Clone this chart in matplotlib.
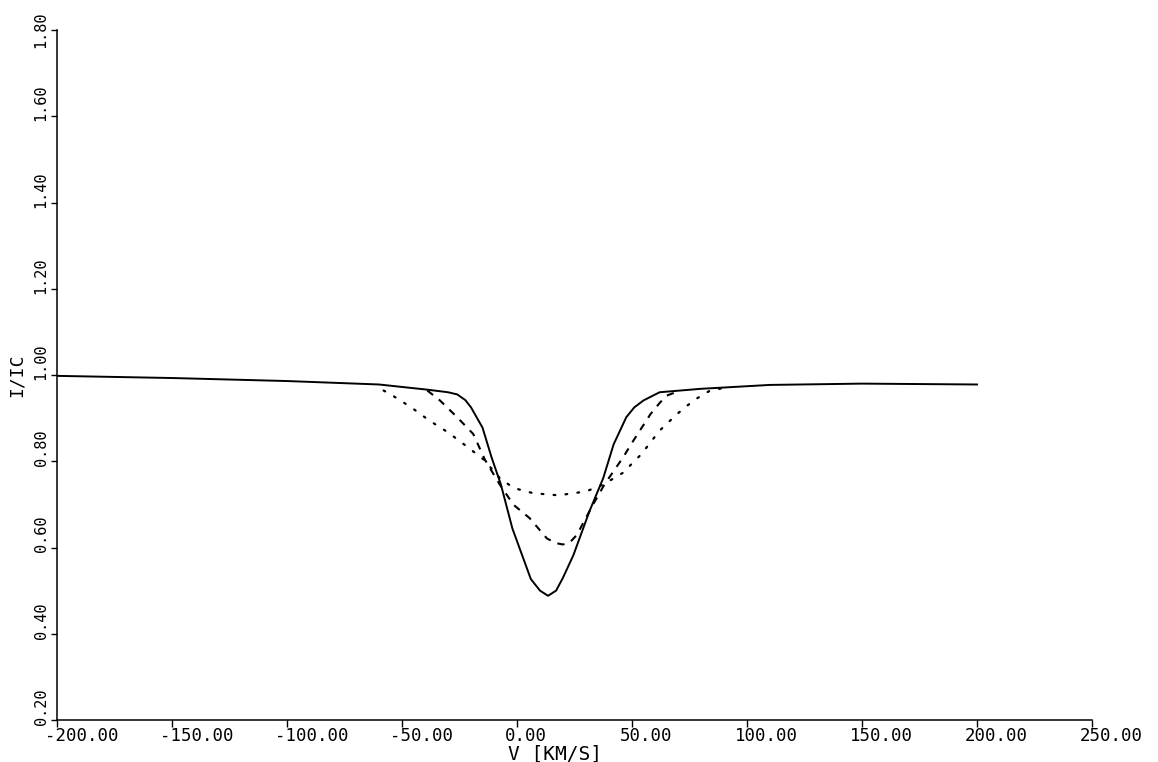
import numpy as np
import matplotlib.pyplot as plt
import matplotlib.transforms as mtransforms

plt.rcParams['font.family'] = ['DejaVu Sans Mono']

# Line profiles: velocity [km/s] and I/Ic
v_solid = [-200, -150, -100, -60, -39, -30, -26, -22.5, -20, -15, -11, -7, -2, 6, 10, 13.5,
           17, 20, 24.5, 31.5, 37.5, 42, 47.5, 51, 55, 62, 80, 110, 150, 200]
i_solid = [0.998, 0.993, 0.986, 0.978, 0.966, 0.960, 0.955, 0.942, 0.925, 0.878, 0.808, 0.746,
           0.644, 0.527, 0.500, 0.488, 0.500, 0.530, 0.582, 0.684, 0.761, 0.839, 0.902,
           0.925, 0.941, 0.960, 0.968, 0.977, 0.980, 0.978]

v_dash = [-39, -33.5, -26, -19, -14, -7.5, -1.5, 5.5, 13, 17, 20, 23, 26, 33, 38, 46,
          50.5, 58, 62, 65, 70]
i_dash = [0.964, 0.941, 0.902, 0.863, 0.804, 0.746, 0.699, 0.668, 0.621, 0.610, 0.607,
          0.612, 0.629, 0.699, 0.746, 0.808, 0.847, 0.909, 0.935, 0.952, 0.962]

v_dot = [-58, -54, -46, -38, -30, -22, -14.5, -7.5, -1.5, 7, 18, 30, 37.5, 46, 54, 62,
         69.5, 74, 78, 84, 90]
i_dot = [0.964, 0.952, 0.925, 0.894, 0.867, 0.835, 0.804, 0.761, 0.738, 0.726, 0.721,
         0.730, 0.746, 0.773, 0.816, 0.871, 0.909, 0.929, 0.945, 0.964, 0.970]

xticks = [-200, -150, -100, -50, 0, 50, 100, 150, 200, 250]
yticks = [0.2, 0.4, 0.6, 0.8, 1.0, 1.2, 1.4, 1.6, 1.8]

fig = plt.figure(figsize=(11.58, 7.62), dpi=100)
ax = fig.add_axes([57 / 1158, 1 - 720 / 762, 1035 / 1158, 690 / 762])

ax.plot(v_solid, i_solid, color='black', lw=1.4)
ax.plot(v_dash, i_dash, color='black', lw=1.5, linestyle=(0, (3.5, 3.5)))
ax.plot(v_dot, i_dot, color='black', lw=1.6, linestyle=(0, (0.8, 4.6)),
        dash_capstyle='round')

ax.set_xlim(-200, 250)
ax.set_ylim(0.2, 1.8)
ax.spines['top'].set_visible(False)
ax.spines['right'].set_visible(False)
ax.spines['left'].set_linewidth(1.1)
ax.spines['bottom'].set_linewidth(1.1)

ax.set_xticks(xticks)
ax.set_xticklabels(['%.2f' % t for t in xticks], fontsize=12.5)
ax.set_yticks(yticks)
ax.set_yticklabels(['%.2f' % t for t in yticks], fontsize=11, rotation=90)
ax.tick_params(axis='x', direction='out', length=5, width=1, pad=0)
ax.tick_params(axis='y', direction='out', length=4, width=1, pad=2)

dx = mtransforms.ScaledTranslation(-12 / 100, 0, fig.dpi_scale_trans)
for lab in ax.get_xticklabels():
    lab.set_ha('left')
    lab.set_transform(lab.get_transform() + dx)
dy = mtransforms.ScaledTranslation(0, -5 / 100, fig.dpi_scale_trans)
ylabs = ax.get_yticklabels()
for lab in ylabs[:-1]:
    lab.set_va('bottom')
    lab.set_transform(lab.get_transform() + dy)
ylabs[-1].set_va('center')

ax.set_xlabel('V [KM/S]', fontsize=14)
ax.xaxis.set_label_coords(0.4357, -0.0355)
ax.xaxis.label.set_ha('left')
ax.xaxis.label.set_va('top')
ax.set_ylabel('I/IC', fontsize=13)
ax.yaxis.set_label_coords(-0.0386, 1.0, transform=ax.get_yaxis_transform())
ax.yaxis.label.set_va('center')

fig.savefig('out.png', dpi=100)
